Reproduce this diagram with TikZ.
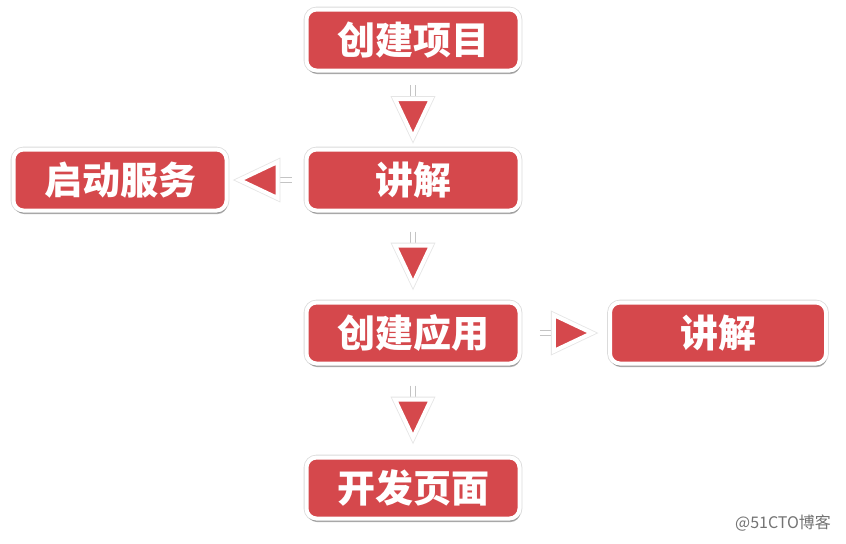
\documentclass[tikz,border=0pt]{standalone}
\usepackage{fontspec}
\usetikzlibrary{calc,shadows}
\newfontfamily\cjk{Noto Sans CJK SC}
\definecolor{boxred}{RGB}{213,72,76}
\definecolor{stemgray}{RGB}{196,196,196}

\tikzset{
  stepbox/.style={draw=white, line width=2pt, fill=boxred, rounded corners=5pt,
    minimum width=106.5pt, minimum height=30.5pt, text=white,
    font=\cjk\bfseries\fontsize{19}{21}\selectfont,
    preaction={draw=black!14, line width=2.8pt},
    drop shadow={shadow xshift=0.4pt, shadow yshift=-1.8pt, opacity=0.3, fill=black}},
  flowtip/.pic={
    \draw[stemgray, line width=0.6pt] (-25,-2.5) -- (-12,-2.5) (-25,2.5) -- (-12,2.5);
    \filldraw[fill=boxred, draw=white, line width=2pt, line join=miter,
      preaction={draw=black!10, line width=2.8pt}] (-11,-18) -- (27,0) -- (-11,18) -- cycle;
  }
}

\begin{document}
\begin{tikzpicture}[x=0.5pt, y=-0.5pt]
\useasboundingbox[fill=white] (0,0) rectangle (846,543);
% steps
\node[stepbox] (proj) at (413,40) {创建项目};
\node[stepbox] (talk) at (413,180) {讲解};
\node[stepbox] (serve) at (120,180) {启动服务};
\node[stepbox] (app) at (413,333) {创建应用};
\node[stepbox, minimum width=108pt] (talkb) at (718,333) {讲解};
\node[stepbox] (page) at (413,488) {开发页面};
% arrows
\pic[rotate=-90] at ($(proj.south)!0.5!(talk.north)$) {flowtip};
\pic[rotate=180] at ($(talk.west)!0.5!(serve.east)$) {flowtip};
\pic[rotate=-90] at ($(talk.south)!0.5!(app.north)$) {flowtip};
\pic at ($(app.east)!0.5!(talkb.west)$) {flowtip};
\pic[rotate=-90] at ($(app.south)!0.5!(page.north)$) {flowtip};
\node[font=\cjk\fontsize{8}{9}\selectfont, text=black!55, anchor=east] (mark) at (838,523) {@51CTO博客};
\end{tikzpicture}
\end{document}
